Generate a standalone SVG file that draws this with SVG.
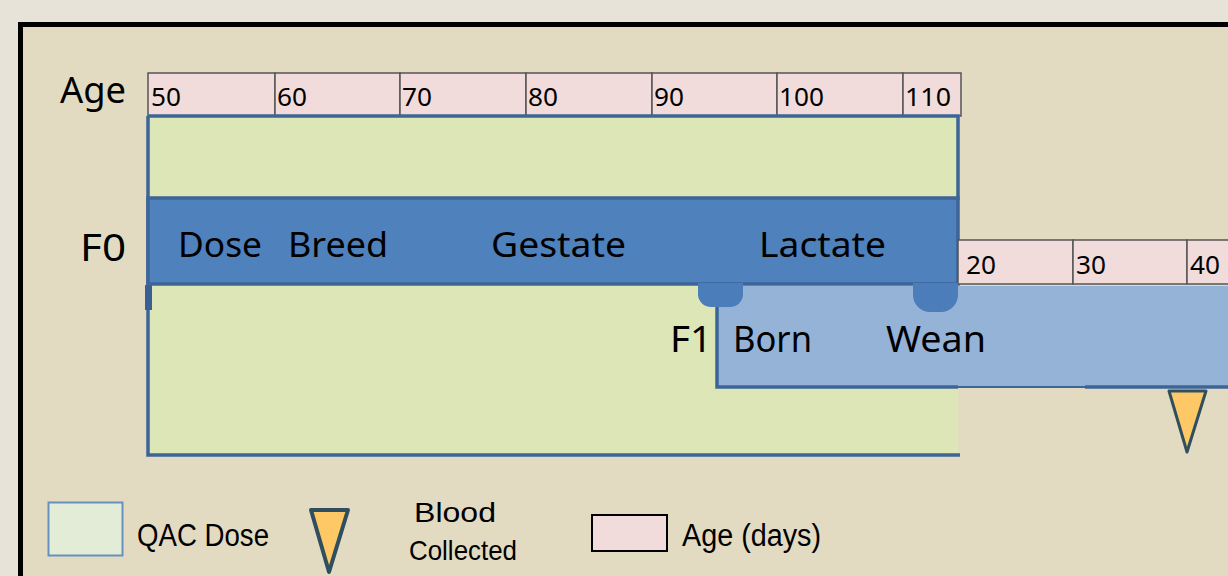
<svg xmlns="http://www.w3.org/2000/svg" width="1228" height="576" viewBox="0 0 1228 576">
<style>
.lbl{font-family:"Noto Sans","Open Sans",sans-serif;fill:#000}
.big{font-size:36px}
.tick{font-family:"Noto Sans","Open Sans",sans-serif;font-size:25px;fill:#000}
.leg{font-family:"Liberation Sans Narrow","Liberation Sans",sans-serif;font-size:31px;fill:#000}
.leg2{font-family:"Liberation Sans Narrow","Liberation Sans",sans-serif;font-size:28px;fill:#000}
.cell{fill:#f2dcdb;stroke:#555;stroke-width:1.5}
.edge{fill:none;stroke:#3d6597;stroke-width:3.5}
</style>
<rect x="0" y="0" width="1228" height="576" fill="#e7e3d9"/>
<rect x="20.5" y="24.5" width="1230" height="600" fill="#e2dbc2" stroke="#000" stroke-width="5"/>

<g id="age-scale-f0">
<rect class="cell" x="148" y="73" width="127" height="43"/>
<rect class="cell" x="275" y="73" width="125" height="43"/>
<rect class="cell" x="400" y="73" width="126" height="43"/>
<rect class="cell" x="526" y="73" width="126" height="43"/>
<rect class="cell" x="652" y="73" width="125" height="43"/>
<rect class="cell" x="777" y="73" width="126" height="43"/>
<rect class="cell" x="903" y="73" width="58" height="43"/>
<text class="tick" x="151" y="106" textLength="30" lengthAdjust="spacingAndGlyphs">50</text>
<text class="tick" x="277" y="106" textLength="30" lengthAdjust="spacingAndGlyphs">60</text>
<text class="tick" x="402" y="106" textLength="30" lengthAdjust="spacingAndGlyphs">70</text>
<text class="tick" x="528" y="106" textLength="30" lengthAdjust="spacingAndGlyphs">80</text>
<text class="tick" x="654" y="106" textLength="30" lengthAdjust="spacingAndGlyphs">90</text>
<text class="tick" x="779" y="106" textLength="45" lengthAdjust="spacingAndGlyphs">100</text>
<text class="tick" x="905" y="106" textLength="46" lengthAdjust="spacingAndGlyphs">110</text>
<text class="lbl big" x="60" y="103" textLength="66" lengthAdjust="spacingAndGlyphs">Age</text>
</g>

<g id="qac-dose">
<rect x="148" y="116" width="810" height="339" fill="#dce6b7"/>
<path class="edge" d="M148,116 H958 V200 M148,116 V455 H960"/>
<path d="M145,285 h7 v25 h-7 Z" fill="#3a5f94"/>
</g>

<g id="f0-bar">
<rect x="148" y="198" width="810" height="86" fill="#4f81bd" stroke="#3d6597" stroke-width="3.5"/>
<text class="lbl" x="80" y="261" font-size="38" textLength="46" lengthAdjust="spacingAndGlyphs">F0</text>
<text class="lbl" x="178" y="257" font-size="34" textLength="84" lengthAdjust="spacingAndGlyphs">Dose</text>
<text class="lbl" x="288" y="257" font-size="34" textLength="100" lengthAdjust="spacingAndGlyphs">Breed</text>
<text class="lbl" x="491" y="257" font-size="34" textLength="135" lengthAdjust="spacingAndGlyphs">Gestate</text>
<text class="lbl" x="759" y="257" font-size="34" textLength="127" lengthAdjust="spacingAndGlyphs">Lactate</text>
</g>

<g id="age-scale-f1">
<rect class="cell" x="958" y="240" width="115" height="44"/>
<rect class="cell" x="1073" y="240" width="114" height="44"/>
<rect class="cell" x="1187" y="240" width="60" height="44"/>
<text class="tick" x="966" y="274" textLength="30" lengthAdjust="spacingAndGlyphs">20</text>
<text class="tick" x="1076" y="274" textLength="30" lengthAdjust="spacingAndGlyphs">30</text>
<text class="tick" x="1190" y="274" textLength="30" lengthAdjust="spacingAndGlyphs">40</text>
</g>

<g id="f1-bar">
<rect x="716" y="286" width="520" height="101" fill="#95b3d7"/>
<path class="edge" d="M717,286 V387 H958"/>
<path d="M958,387 H1085" fill="none" stroke="#3d6597" stroke-width="2"/>
<path class="edge" d="M1085,387 H1230"/>
<text class="lbl" x="670" y="352" font-size="36" textLength="42" lengthAdjust="spacingAndGlyphs">F1</text>
<text class="lbl" x="733" y="352" font-size="36" textLength="79" lengthAdjust="spacingAndGlyphs">Born</text>
<text class="lbl" x="886" y="352" font-size="36" textLength="100" lengthAdjust="spacingAndGlyphs">Wean</text>
</g>

<g id="connectors">
<path id="born-link" d="M698,283 V294 a13,13 0 0 0 13,13 h19 a13,13 0 0 0 13,-13 V283 Z" fill="#4a7dba"/>
<path id="wean-link" d="M913,283 V295 a17,17 0 0 0 17,17 h11 a17,17 0 0 0 17,-17 V283 Z" fill="#4a7dba"/>
</g>

<g id="blood-marker">
<path d="M1169,391 H1206 L1187,452 Z" fill="#ffc866" stroke="#2f4f5e" stroke-width="3" stroke-linejoin="round"/>
</g>

<g id="legend">
<rect x="48.5" y="502.5" width="74" height="53" fill="#e2ecd6" stroke="#6691bf" stroke-width="2"/>
<text class="leg" x="137" y="546" textLength="132" lengthAdjust="spacingAndGlyphs">QAC Dose</text>
<path d="M311,510 H348 L329,572 Z" fill="#ffc866" stroke="#2f4f5e" stroke-width="4" stroke-linejoin="round"/>
<text class="leg2" x="414" y="522" textLength="82" lengthAdjust="spacingAndGlyphs">Blood</text>
<text class="leg2" x="409" y="560" textLength="108" lengthAdjust="spacingAndGlyphs">Collected</text>
<rect x="592" y="515" width="75" height="36" fill="#f2dcdb" stroke="#000" stroke-width="2"/>
<text class="leg" x="682" y="546" textLength="139" lengthAdjust="spacingAndGlyphs">Age (days)</text>
</g>
</svg>
